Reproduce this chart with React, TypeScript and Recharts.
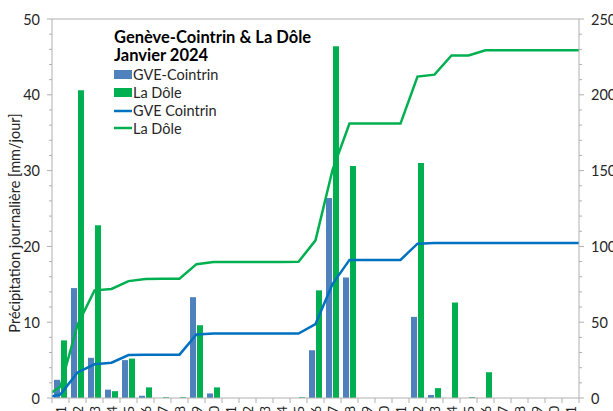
import React from "react";
import { ComposedChart, Bar, Line, XAxis, YAxis, ReferenceLine } from "recharts";

const dayLabels = [
  "1", "2", "3", "4", "5", "6", "7", "8", "9", "10", "11", "12", "13", "14", "15", "16",
  "17", "18", "19", "20", "21", "22", "23", "24", "25", "26", "27", "28", "29", "30", "31",
];
const gveDaily = [
  2.4, 14.5, 5.3, 1.1, 5.0, 0.3, 0, 0, 13.3, 0.6, 0, 0, 0, 0, 0, 6.3,
  26.4, 15.9, 0, 0, 0, 10.7, 0.4, 0, 0, 0, 0, 0, 0, 0, 0,
];
const doleDaily = [
  7.6, 40.6, 22.8, 0.9, 5.2, 1.4, 0.1, 0.1, 9.6, 1.4, 0, 0, 0, 0, 0.1, 14.2,
  46.4, 30.6, 0, 0, 0, 31.0, 1.3, 12.6, 0.1, 3.4, 0, 0, 0, 0, 0,
];
// cumulative series: day 0 (31 Dec) .. day 32 (1 Feb)
const lineDays = [
  0, 1, 2, 3, 4, 5, 6, 7, 8, 9, 10, 11, 12, 13, 14, 15, 16,
  17, 18, 19, 20, 21, 22, 23, 24, 25, 26, 27, 28, 29, 30, 31, 32,
];
const gveCumul = [
  0, 2.4, 16.9, 22.2, 23.3, 28.3, 28.6, 28.6, 28.6, 41.9, 42.5, 42.5, 42.5, 42.5, 42.5, 42.5, 48.8,
  75.2, 91.1, 91.1, 91.1, 91.1, 101.8, 102.2, 102.2, 102.2, 102.2, 102.2, 102.2, 102.2, 102.2, 102.2, 102.2,
];
const doleCumul = [
  0, 7.6, 48.2, 71.0, 71.9, 77.1, 78.5, 78.6, 78.7, 88.3, 89.7, 89.7, 89.7, 89.7, 89.7, 89.8, 104.0,
  150.4, 181.0, 181.0, 181.0, 181.0, 212.0, 213.3, 225.9, 226.0, 229.4, 229.4, 229.4, 229.4, 229.4, 229.4, 229.4,
];
const leftTicks = [0, 2, 4, 6, 8, 10, 12, 14, 16, 18, 20, 22, 24, 26, 28, 30, 32, 34, 36, 38, 40, 42, 44, 46, 48, 50];
const rightTicks = [
  0, 10, 20, 30, 40, 50, 60, 70, 80, 90, 100, 110, 120, 130, 140, 150, 160, 170, 180, 190,
  200, 210, 220, 230, 240, 250,
];

const barData = dayLabels.map((d, i) => ({ day: d, gve: gveDaily[i], dole: doleDaily[i] }));
const lineData = lineDays.map((d, i) => ({ x: d, gveC: gveCumul[i], doleC: doleCumul[i] }));

const W = 613;
const H = 440;
const LEFT_W = 52;
const RIGHT_W = 34;
const PLOT_W = W - LEFT_W - RIGHT_W;
const STEP = PLOT_W / dayLabels.length;
const AXIS = "#B0B0B0";
const TXT = "#262626";
const FONT = "Lato, 'Open Sans', sans-serif";
const BLUE_BAR = "#4F81BD";
const GREEN = "#00B050";
const BLUE_LINE = "#0070C0";

const XTick = (props: any) => {
  const { x, y, payload, index } = props;
  const ty = y + 8;
  return (
    <g>
      <line x1={x - STEP / 2} x2={x - STEP / 2} y1={y} y2={y + 5} stroke={AXIS} />
      {index === dayLabels.length - 1 && (
        <line x1={x + STEP / 2} x2={x + STEP / 2} y1={y} y2={y + 5} stroke={AXIS} />
      )}
      <text
        x={x}
        y={ty}
        transform={`rotate(-90 ${x} ${ty})`}
        textAnchor="end"
        dominantBaseline="central"
        fontSize={13}
        fontFamily={FONT}
        fill={TXT}
      >
        {payload.value}
      </text>
    </g>
  );
};

const LeftTick = (props: any) => {
  const { x, y, payload } = props;
  const major = payload.value % 10 === 0;
  return (
    <g>
      <line x1={x - (major ? 5 : 3)} x2={x} y1={y} y2={y} stroke={AXIS} />
      {major && (
        <text x={x - 12} y={y} textAnchor="end" dominantBaseline="central" fontSize={14.5} fontFamily={FONT} fill={TXT}>
          {payload.value}
        </text>
      )}
    </g>
  );
};

const RightTick = (props: any) => {
  const { x, y, payload } = props;
  const major = payload.value % 50 === 0;
  return (
    <g>
      <line x1={x} x2={x + (major ? 5 : 3)} y1={y} y2={y} stroke={AXIS} />
      {major && (
        <text x={x + 12} y={y} textAnchor="start" dominantBaseline="central" fontSize={14.5} fontFamily={FONT} fill={TXT}>
          {payload.value}
        </text>
      )}
    </g>
  );
};

export default function App() {
  return (
    <div style={{ position: "relative", width: W, height: H, background: "#fff" }}>
      <style>{"html,body{margin:0;padding:0;overflow:hidden;background:#fff}"}</style>
      <ComposedChart
        width={W}
        height={H}
        data={barData}
        margin={{ top: 19, right: 0, bottom: 12, left: 0 }}
        barSize={6}
        barGap={1}
      >
        <XAxis
          xAxisId="cat"
          dataKey="day"
          interval={0}
          height={30}
          tickSize={0}
          tickMargin={0}
          tickLine={false}
          axisLine={{ stroke: AXIS }}
          tick={<XTick />}
        />
        <XAxis
          xAxisId="line"
          type="number"
          dataKey="x"
          domain={[0.5, 31.5]}
          allowDataOverflow
          hide
        />
        <YAxis
          yAxisId="left"
          orientation="left"
          width={LEFT_W}
          domain={[0, 50]}
          ticks={leftTicks}
          interval={0}
          tickSize={0}
          tickMargin={0}
          tickLine={false}
          axisLine={{ stroke: AXIS }}
          tick={<LeftTick />}
        />
        <YAxis
          yAxisId="right"
          orientation="right"
          width={RIGHT_W}
          domain={[0, 250]}
          ticks={rightTicks}
          interval={0}
          tickSize={0}
          tickMargin={0}
          tickLine={false}
          axisLine={{ stroke: AXIS }}
          tick={<RightTick />}
        />
        <ReferenceLine xAxisId="cat" yAxisId="left" y={50} stroke={AXIS} />
        <Bar xAxisId="cat" yAxisId="left" dataKey="gve" fill={BLUE_BAR} isAnimationActive={false} />
        <Bar xAxisId="cat" yAxisId="left" dataKey="dole" fill={GREEN} isAnimationActive={false} />
        <Line
          xAxisId="line"
          yAxisId="right"
          data={lineData}
          dataKey="gveC"
          stroke={BLUE_LINE}
          strokeWidth={2.5}
          dot={false}
          activeDot={false}
          type="linear"
          isAnimationActive={false}
        />
        <Line
          xAxisId="line"
          yAxisId="right"
          data={lineData}
          dataKey="doleC"
          stroke={GREEN}
          strokeWidth={2.5}
          dot={false}
          activeDot={false}
          type="linear"
          isAnimationActive={false}
        />
      </ComposedChart>
      <svg
        width={W}
        height={H}
        style={{ position: "absolute", left: 0, top: 0, pointerEvents: "none" }}
        fontFamily={FONT}
      >
        <text x={14} y={223} transform="rotate(-90 14 223)" textAnchor="middle" dominantBaseline="central" fontSize={14.5} fill={TXT}>
          Précipitation journalière [mm/jour]
        </text>
        <text x={114} y={43} fontSize={16.5} fontWeight="bold" fill="#000">Genève-Cointrin &amp; La Dôle</text>
        <text x={114} y={61} fontSize={16.5} fontWeight="bold" fill="#000">Janvier 2024</text>
        <rect x={114} y={70} width={18} height={9} fill={BLUE_BAR} />
        <text x={133} y={80} fontSize={14.5} fill={TXT}>GVE-Cointrin</text>
        <rect x={114} y={88} width={18} height={9} fill={GREEN} />
        <text x={133} y={98} fontSize={14.5} fill={TXT}>La Dôle</text>
        <line x1={114} x2={132} y1={111} y2={111} stroke={BLUE_LINE} strokeWidth={2.5} />
        <text x={133} y={116} fontSize={14.5} fill={TXT}>GVE Cointrin</text>
        <line x1={114} x2={132} y1={128} y2={128} stroke={GREEN} strokeWidth={2.5} />
        <text x={133} y={134} fontSize={14.5} fill={TXT}>La Dôle</text>
      </svg>
    </div>
  );
}
